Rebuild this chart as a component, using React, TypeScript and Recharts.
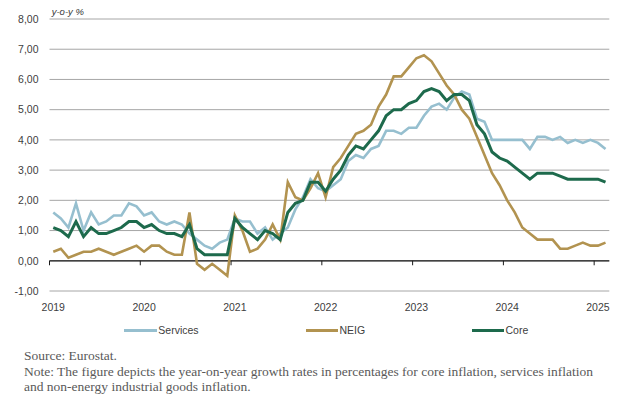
import React from 'react';
import { LineChart, Line, XAxis, YAxis, CartesianGrid, ReferenceLine, Legend } from 'recharts';

// monthly y-o-y rates, Jan 2019 .. Feb 2025
const years = [2019, 2020, 2021, 2022, 2023, 2024, 2025];
const months = years
  .flatMap((y) => Array.from({ length: 12 }, (_, m) => `${y}-${String(m + 1).padStart(2, '0')}`))
  .slice(0, 74);

const services = [
  1.6, 1.4, 1.1, 1.9, 1.0, 1.6, 1.2, 1.3, 1.5, 1.5, 1.9, 1.8,
  1.5, 1.6, 1.3, 1.2, 1.3, 1.2, 0.9, 0.7, 0.5, 0.4, 0.6, 0.7,
  1.4, 1.3, 1.3, 0.9, 1.1, 0.7, 0.9, 1.1, 1.7, 2.1, 2.7, 2.4,
  2.3, 2.5, 2.7, 3.3, 3.5, 3.4, 3.7, 3.8, 4.3, 4.3, 4.2, 4.4,
  4.4, 4.8, 5.1, 5.2, 5.0, 5.4, 5.6, 5.5, 4.7, 4.6, 4.0, 4.0,
  4.0, 4.0, 4.0, 3.7, 4.1, 4.1, 4.0, 4.1, 3.9, 4.0, 3.9, 4.0,
  3.9, 3.7,
];

const neig = [
  0.3, 0.4, 0.1, 0.2, 0.3, 0.3, 0.4, 0.3, 0.2, 0.3, 0.4, 0.5,
  0.3, 0.5, 0.5, 0.3, 0.2, 0.2, 1.6, -0.1, -0.3, -0.1, -0.3, -0.5,
  1.5, 1.0, 0.3, 0.4, 0.7, 1.2, 0.7, 2.6, 2.1, 2.0, 2.4, 2.9,
  2.1, 3.1, 3.4, 3.8, 4.2, 4.3, 4.5, 5.1, 5.5, 6.1, 6.1, 6.4,
  6.7, 6.8, 6.6, 6.2, 5.8, 5.5, 5.0, 4.7, 4.1, 3.5, 2.9, 2.5,
  2.0, 1.6, 1.1, 0.9, 0.7, 0.7, 0.7, 0.4, 0.4, 0.5, 0.6, 0.5,
  0.5, 0.6,
];

const core = [
  1.1, 1.0, 0.8, 1.3, 0.8, 1.1, 0.9, 0.9, 1.0, 1.1, 1.3, 1.3,
  1.1, 1.2, 1.0, 0.9, 0.9, 0.8, 1.2, 0.4, 0.2, 0.2, 0.2, 0.2,
  1.4, 1.1, 0.9, 0.7, 1.0, 0.9, 0.7, 1.6, 1.9, 2.0, 2.6, 2.6,
  2.3, 2.7, 3.0, 3.5, 3.8, 3.7, 4.0, 4.3, 4.8, 5.0, 5.0, 5.2,
  5.3, 5.6, 5.7, 5.6, 5.3, 5.5, 5.5, 5.3, 4.5, 4.2, 3.6, 3.4,
  3.3, 3.1, 2.9, 2.7, 2.9, 2.9, 2.9, 2.8, 2.7, 2.7, 2.7, 2.7,
  2.7, 2.6,
];

const yTicks = [-1, 0, 1, 2, 3, 4, 5, 6, 7, 8];

const data = months.map((month, i) => ({
  month,
  services: services[i],
  neig: neig[i],
  core: core[i],
}));

const COLORS = { services: '#96bfcf', neig: '#b29350', core: '#1d6a4c' };
const AXIS_FONT = '"Liberation Sans", Arial, sans-serif';
const CHART_W = 620;
const PLOT_W = 559.8;
const HALF_CAT = PLOT_W / months.length / 2;

// x axis sits on the zero line, with year ticks on the month boundaries
const ZeroAxis = (props: any) => {
  const { x1, x2, y1 } = props;
  const left = Math.min(x1, x2);
  const right = Math.max(x1, x2);
  const step = (right - left) / months.length;
  return (
    <g>
      <line x1={left} x2={right} y1={y1} y2={y1} stroke="#1a1a1a" strokeWidth={1.3} />
      {years.map((yr, k) => (
        <line key={yr} x1={left + k * 12 * step} x2={left + k * 12 * step} y1={y1} y2={y1 + 4.5} stroke="#1a1a1a" strokeWidth={1} />
      ))}
    </g>
  );
};

const YearTick = ({ x, y, payload }: any) => (
  <text x={x} y={y} dy={20} textAnchor="middle" fontFamily={AXIS_FONT} fontSize={10.5} fill="#404040">
    {String(payload.value).slice(0, 4)}
  </text>
);

const legendItems = [
  { label: 'Services', color: COLORS.services, left: 124.3 },
  { label: 'NEIG', color: COLORS.neig, left: 305.5 },
  { label: 'Core', color: COLORS.core, left: 471.5 },
];

const ChartLegend = () => (
  <div style={{ position: 'relative', width: CHART_W, height: 30 }}>
    {legendItems.map((it) => (
      <div
        key={it.label}
        style={{ position: 'absolute', left: it.left, top: 5, display: 'flex', alignItems: 'center', height: 14, fontFamily: AXIS_FONT, fontSize: 10.5, color: '#404040' }}
      >
        <span style={{ display: 'inline-block', width: 32.5, height: 3, background: it.color }} />
        <span style={{ marginLeft: 1.5 }}>{it.label}</span>
      </div>
    ))}
  </div>
);

const UnitLabel = ({ viewBox }: any) => (
  <text x={viewBox.x + viewBox.width + 2.2} y={viewBox.y - 4} fontFamily={AXIS_FONT} fontSize={9.5} fontStyle="italic" fill="#333">
    y-o-y %
  </text>
);

export default function App() {
  return (
    <div style={{ width: 630, marginTop: -8, marginLeft: -8, background: '#fff' }}>
      <LineChart width={CHART_W} height={348} data={data} margin={{ top: 19, right: CHART_W - 49.5 - PLOT_W, left: 0, bottom: 0 }}>
        <CartesianGrid vertical={false} stroke="#a6a6a6" strokeWidth={1} />
        <XAxis
          dataKey="month"
          interval={11}
          padding={{ left: HALF_CAT, right: HALF_CAT }}
          axisLine={false}
          tickLine={false}
          tickSize={0}
          tickMargin={0}
          height={27}
          tick={<YearTick />}
        />
        <YAxis
          width={49.5}
          domain={[-1, 8]}
          ticks={yTicks}
          axisLine={false}
          tickLine={false}
          tickSize={0}
          tickMargin={11}
          tickFormatter={(v: number) => v.toFixed(2).replace('.', ',')}
          tick={{ fontFamily: AXIS_FONT, fontSize: 10.5, fill: '#404040' }}
          label={{ content: <UnitLabel /> }}
        />
        <ReferenceLine y={0} shape={ZeroAxis} />
        <Line type="linear" dataKey="services" name="Services" stroke={COLORS.services} strokeWidth={2.6} dot={false} isAnimationActive={false} />
        <Line type="linear" dataKey="neig" name="NEIG" stroke={COLORS.neig} strokeWidth={2.6} dot={false} isAnimationActive={false} />
        <Line type="linear" dataKey="core" name="Core" stroke={COLORS.core} strokeWidth={3} dot={false} isAnimationActive={false} />
        <Legend verticalAlign="bottom" height={30} wrapperStyle={{ left: 0, bottom: 0, width: CHART_W, height: 30 }} content={<ChartLegend />} />
      </LineChart>
      <div style={{ paddingLeft: 24, width: 582, fontFamily: '"Liberation Serif", "Times New Roman", serif', fontSize: 13.5, lineHeight: '15.5px', color: '#595959' }}>
        <div>Source: Eurostat.</div>
        <div>
          Note: The figure depicts the year-on-year growth rates in percentages for core inflation, services inflation and non-energy industrial goods inflation.
        </div>
      </div>
    </div>
  );
}
